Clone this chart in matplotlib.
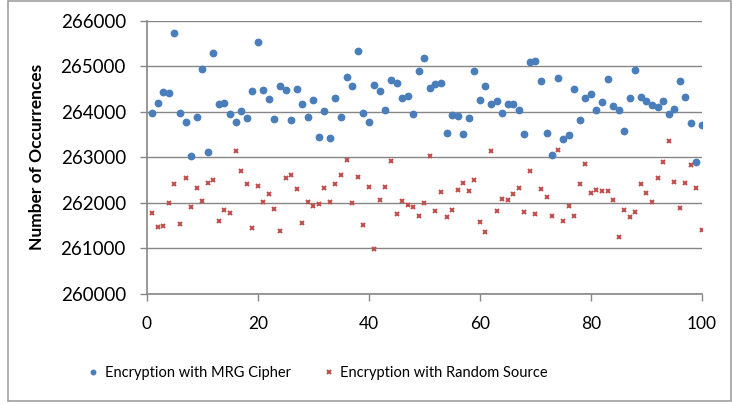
import matplotlib.pyplot as plt
import numpy as np

plt.rcParams['font.family'] = ['Lato', 'DejaVu Sans']

# Data (run index 1..100)
runs = np.arange(1, 101)

mrg_cipher = [
    263963, 264183, 264432, 264403, 265736, 263978, 263780, 263033, 263890, 264945,
    263121, 265282, 264161, 264183, 263941, 263773, 264007, 263868, 264454, 265531,
    264476, 264271, 263832, 264564, 264469, 263817, 264491, 264161, 263890, 264264,
    263451, 264007, 263429, 264300, 263883, 264755, 264557, 265333, 263978, 263780,
    264586, 264454, 264029, 264696, 264623, 264300, 264337, 263941, 264886, 265179,
    264520, 264615, 264623, 263538, 263934, 263897, 263509, 263853, 264894, 264264,
    264557, 264176, 264234, 263971, 264161, 264161, 264044, 263502, 265084, 265121,
    264681, 263538, 263048, 264733, 263399, 263480, 264491, 263817, 264300, 264381,
    264044, 264205, 264718, 264132, 264044, 263582, 264293, 264916, 264330, 264234,
    264147, 264110, 264234, 263941, 264059, 264667, 264330, 263744, 262894, 263707,
]

random_source = [
    261766, 261458, 261494, 261993, 262410, 261538, 262542, 261905, 262322, 262044,
    262425, 262505, 261590, 261831, 261773, 263136, 262689, 262403, 261451, 262374,
    262015, 262190, 261861, 261370, 262549, 262608, 262293, 261546, 262022, 261919,
    261971, 262315, 262022, 262410, 262601, 262938, 261993, 262557, 261509, 262352,
    260989, 262059, 262344, 262916, 261744, 262036, 261941, 261912, 261714, 262000,
    263033, 261809, 262242, 261678, 261846, 262286, 262425, 262249, 262491, 261575,
    261348, 263136, 261824, 262088, 262051, 262183, 262330, 261795, 262696, 261744,
    262293, 262125, 261707, 263150, 261590, 261927, 261714, 262418, 262842, 262205,
    262278, 262256, 262256, 262051, 261245, 261846, 261678, 261802, 262410, 262212,
    262022, 262549, 262886, 263348, 262462, 261883, 262432, 262835, 262315, 261407,
]

x_ticks = [0, 20, 40, 60, 80, 100]
y_ticks = [260000, 261000, 262000, 263000, 264000, 265000, 266000]

grey = '#868686'

fig = plt.figure(figsize=(7.32, 4.05), dpi=100)
ax = fig.add_axes([0.2004, 0.2748, 0.7586, 0.6741])

# Chart area border
fig.patches.append(plt.Rectangle((8 / 732, 4 / 405), 723 / 732, 400 / 405,
                                 transform=fig.transFigure, fill=False,
                                 edgecolor='#a0a0a0', linewidth=1.2))

ax.plot(runs, mrg_cipher, linestyle='none', marker='o', markersize=4.6,
        color='#4a7ebb', label='Encryption with MRG Cipher')
ax.plot(runs, random_source, linestyle='none', marker='x', markersize=3.5,
        markeredgewidth=1.4, color='#be4b48', label='Encryption with Random Source')

ax.set_xlim(0, 100)
ax.set_ylim(260000, 266000)
ax.set_xticks(x_ticks)
ax.set_yticks(y_ticks)
ax.yaxis.grid(True, color=grey, linewidth=1)
ax.set_axisbelow(True)

for side in ['top', 'right']:
    ax.spines[side].set_visible(False)
for side in ['left', 'bottom']:
    ax.spines[side].set_color(grey)
    ax.spines[side].set_linewidth(1.2)

ax.tick_params(axis='both', colors=grey, length=5, width=1, labelcolor='black')
ax.tick_params(axis='x', pad=11, labelsize=12.5)
ax.tick_params(axis='y', pad=10, labelsize=13.5)

ax.set_ylabel('Number of Occurrences', fontsize=12.5, fontweight='bold')
ax.yaxis.set_label_coords(-0.183, 0.5)

fig.legend(loc='center', bbox_to_anchor=(0.434, 0.078), ncol=2, frameon=False,
           fontsize=10.5, handlelength=0.8, handletextpad=0.4,
           columnspacing=2.2, markerscale=0.7)

plt.savefig('out.png', dpi=100)
